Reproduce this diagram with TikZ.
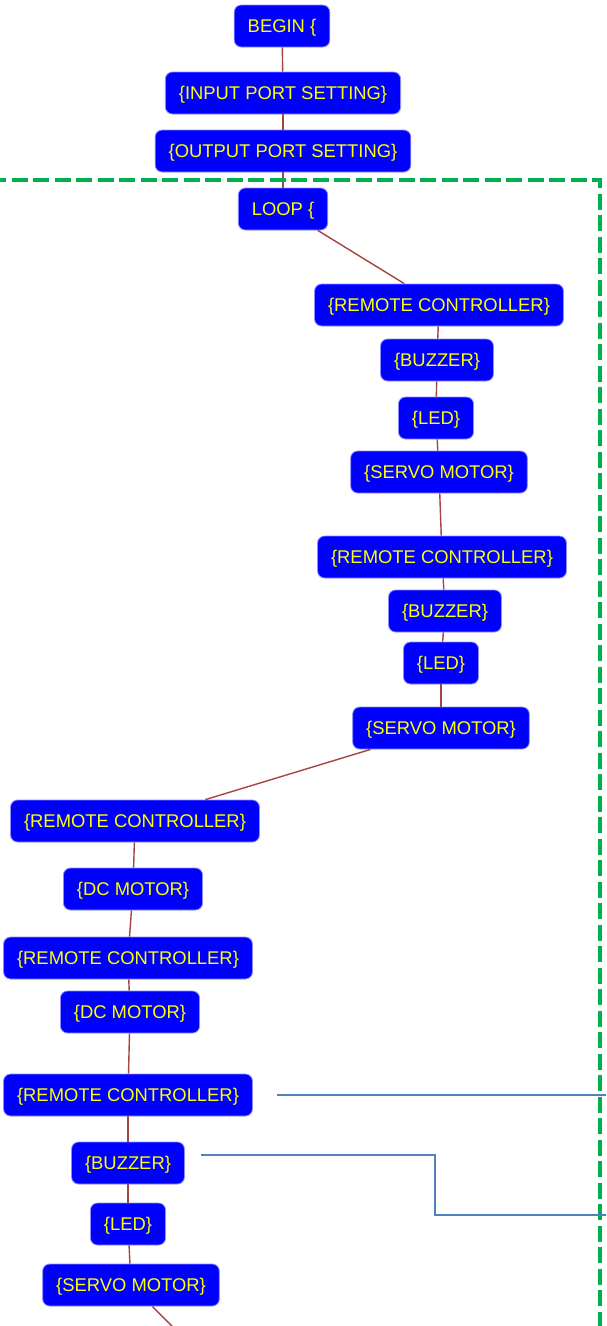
\documentclass[tikz,border=0pt]{standalone}
\usepackage{fontspec}
\setmainfont{Liberation Sans}
\definecolor{boxblue}{HTML}{0000FF}
\definecolor{boxedge}{HTML}{8C8CFF}
\definecolor{txtyellow}{HTML}{FFFF00}
\definecolor{edgered}{HTML}{A4463F}
\definecolor{dashgreen}{HTML}{00B050}
\definecolor{linkblue}{HTML}{4F81BD}
\tikzset{
  blk/.style={rectangle, rounded corners=7pt, fill=boxblue, draw=boxedge, line width=0.8pt,
    text=txtyellow, font=\fontsize{18.4}{20}\selectfont, inner xsep=13.5pt, inner ysep=0pt,
    text height=13.2pt, text depth=0pt, minimum height=42pt},
  flow/.style={draw=edgered, line width=1.4pt},
  frame/.style={draw=dashgreen, line width=4.5pt, dash pattern=on 16pt off 5.5pt},
  link/.style={draw=linkblue, line width=2pt}
}
\begin{document}
\begin{tikzpicture}[x=1pt,y=-1pt]
\useasboundingbox (0,0) rectangle (606,1326);
\fill[white] (0,0) rectangle (606,1326);
\begin{scope}
\clip (0,0) rectangle (606,1326);
% nodes
\node[blk] (begin) at (282,26) {BEGIN \{};
\node[blk] (inp) at (283,93) {\{INPUT PORT SETTING\}};
\node[blk] (outp) at (283,151) {\{OUTPUT PORT SETTING\}};
\node[blk] (loop) at (283,209) {LOOP \{};
\node[blk] (rc1) at (439,305) {\{REMOTE CONTROLLER\}};
\node[blk] (bz1) at (437,360) {\{BUZZER\}};
\node[blk] (led1) at (436,418) {\{LED\}};
\node[blk] (sv1) at (439,472) {\{SERVO MOTOR\}};
\node[blk] (rc2) at (442,557) {\{REMOTE CONTROLLER\}};
\node[blk] (bz2) at (445,611) {\{BUZZER\}};
\node[blk] (led2) at (441,663) {\{LED\}};
\node[blk] (sv2) at (441,728) {\{SERVO MOTOR\}};
\node[blk] (rc3) at (135,821) {\{REMOTE CONTROLLER\}};
\node[blk] (dc1) at (133,889) {\{DC MOTOR\}};
\node[blk] (rc4) at (128,958) {\{REMOTE CONTROLLER\}};
\node[blk] (dc2) at (130,1012) {\{DC MOTOR\}};
\node[blk] (rc5) at (128,1095) {\{REMOTE CONTROLLER\}};
\node[blk] (bz3) at (128,1163) {\{BUZZER\}};
\node[blk] (led3) at (128,1224) {\{LED\}};
\node[blk] (sv3) at (131,1285) {\{SERVO MOTOR\}};
\coordinate (next) at (200,1354);
% connectors
\draw[flow] (begin) -- (inp);
\draw[flow] (inp) -- (outp);
\draw[flow] (outp) -- (loop);
\draw[flow] (loop) -- (rc1);
\draw[flow] (rc1) -- (bz1);
\draw[flow] (bz1) -- (led1);
\draw[flow] (led1) -- (sv1);
\draw[flow] (sv1) -- (rc2);
\draw[flow] (rc2) -- (bz2);
\draw[flow] (bz2) -- (led2);
\draw[flow] (led2) -- (sv2);
\draw[flow] (sv2) -- (rc3);
\draw[flow] (rc3) -- (dc1);
\draw[flow] (dc1) -- (rc4);
\draw[flow] (rc4) -- (dc2);
\draw[flow] (dc2) -- (rc5);
\draw[flow] (rc5) -- (bz3);
\draw[flow] (bz3) -- (led3);
\draw[flow] (led3) -- (sv3);
\draw[flow] (sv3) -- (next);
% dashed frame
\coordinate (fl) at (-10,180);
\coordinate (fc) at (600,180);
\coordinate (fb) at (600,1340);
\draw[frame] (fl) -- (fc) -- (fb);
% blue links
\coordinate (l1a) at (277,1095);
\coordinate (l1b) at (610,1095);
\draw[link] (l1a) -- (l1b);
\coordinate (l2a) at (201,1155);
\coordinate (l2b) at (435,1155);
\coordinate (l2c) at (435,1215);
\coordinate (l2d) at (610,1215);
\draw[link] (l2a) -- (l2b) -- (l2c) -- (l2d);
\end{scope}
\end{tikzpicture}
\end{document}
